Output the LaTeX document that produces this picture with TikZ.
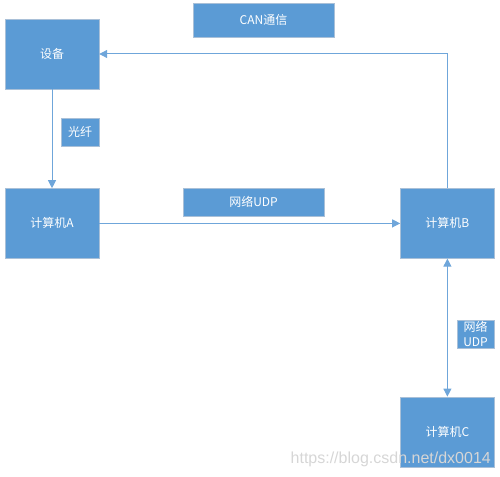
\documentclass[tikz,border=0pt]{standalone}
\usepackage{fontspec}
\setmainfont{Noto Sans CJK SC}
\newfontfamily\markfont{Liberation Sans}
\usepackage{tikz}
\usetikzlibrary{arrows.meta,positioning,shadows}
\definecolor{boxfill}{HTML}{5B9BD5}
\definecolor{boxedge}{HTML}{A9C0D8}
\definecolor{wire}{HTML}{6FA6DA}
\definecolor{markgray}{HTML}{D6D6D6}

\begin{document}
\begin{tikzpicture}[x=1pt,y=-1pt,font=\fontsize{12}{14}\selectfont,
  unit/.style={draw=boxedge,fill=boxfill,text=white,minimum width=94pt,minimum height=70pt,
               inner sep=0pt,drop shadow={shadow xshift=1pt,shadow yshift=-1pt,fill=black!18}},
  tag/.style={draw=boxedge,fill=boxfill,text=white,minimum height=28pt,inner sep=0pt,align=center,
              drop shadow={shadow xshift=1pt,shadow yshift=-1pt,fill=black!18}},
  arr/.style={-{Triangle[length=8pt,width=8pt]},line width=1pt,draw=wire}]

  \useasboundingbox (0,0) rectangle (500,476);

  \node[unit] (dev) at (52,54) {设备};
  \node[unit,below=99pt of dev] (compA) {计算机A};
  \node[unit,right=301pt of compA] (compB) {计算机B};
  \node[unit,below=138pt of compB] (compC) {计算机C};

  \node[tag,minimum width=141pt,minimum height=34pt] (can) at (263.5,20) {CAN通信};
  \node[tag,minimum width=38pt] (fiber) at (80,132) {光纤};
  \node[tag,minimum width=141pt] (udpAB) at (253.5,202) {网络UDP};
  \node[tag,minimum width=37pt,font=\fontsize{12}{15}\selectfont] (udpBC) at (475.5,334) {网络\\UDP};

  \draw[arr] (dev) -- (compA);
  \draw[arr] (compA) -- (compB);
  \draw[arr] (compB.north) |- (dev.east);
  \draw[arr,{Triangle[length=8pt,width=8pt]}-{Triangle[length=8pt,width=8pt]}] (compB) -- (compC);

  \node[text=markgray,font=\markfont\fontsize{16}{18}\selectfont,anchor=base east,inner sep=0pt] (mark)
    at (491,463) {https://blog.csdn.net/dx0014};
\end{tikzpicture}
\end{document}
